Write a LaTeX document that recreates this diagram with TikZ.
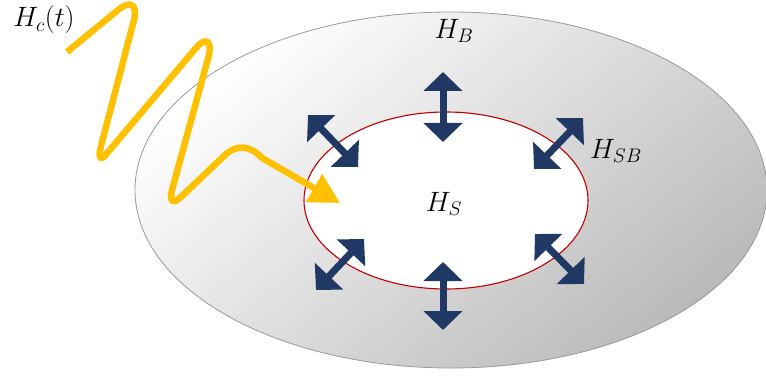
\RequirePackage{fix-cm}
\documentclass[tikz,border=0pt]{standalone}
\usetikzlibrary{arrows.meta}
\definecolor{navy}{HTML}{203864}
\definecolor{gold}{HTML}{FFC000}
\definecolor{redline}{HTML}{C00000}
\begin{document}
\begin{tikzpicture}[x=1pt,y=-1pt,
  dbl/.style={navy, line width=7pt,
    {Triangle[width=38pt,length=19pt]}-{Triangle[width=38pt,length=19pt]}},
  lab/.style={font=\fontsize{28}{33}\selectfont, inner sep=0pt}]
\useasboundingbox (0,0) rectangle (766,377);
% outer ellipse (bath)
\shade[top color=white, bottom color=black!27, shading angle=40,
  draw=black!40, line width=0.8pt] (451,190) ellipse [x radius=316, y radius=178];
% inner ellipse (system)
\draw[redline, fill=white, line width=1.1pt] (446,200.5) ellipse [x radius=142, y radius=88.5];
% labels
\node[lab] (hc) at (44,20) {$H_c(t)$};
\node[lab] (hb) at (454,31) {$H_B$};
\node[lab] (hs) at (444,204) {$H_S$};
\node[lab] (hsb) at (616,151) {$H_{SB}$};
% coupling arrows
\coordinate (t1) at (443,72);  \coordinate (t2) at (443,142);
\coordinate (b1) at (443,262); \coordinate (b2) at (443,330);
\coordinate (ul1) at (308,115); \coordinate (ul2) at (358,167);
\coordinate (ur1) at (583,118); \coordinate (ur2) at (534,169);
\coordinate (ll1) at (364,239); \coordinate (ll2) at (316,290);
\coordinate (lr1) at (535,234); \coordinate (lr2) at (584,284);
\draw[dbl] (t1) -- (t2);
\draw[dbl] (b1) -- (b2);
\draw[dbl] (ul1) -- (ul2);
\draw[dbl] (ur1) -- (ur2);
\draw[dbl] (ll1) -- (ll2);
\draw[dbl] (lr1) -- (lr2);
% control field
\coordinate (w0) at (67,52);
\coordinate (w1) at (340,203);
\draw[gold, line width=6.5pt, line join=round, -{Triangle[width=31pt,length=30pt]}]
  (w0) -- (118,10) .. controls (130,0) and (138,4) .. (134,20)
  -- (101,146) .. controls (98,158) and (100,163) .. (108,152)
  -- (196,48) .. controls (205,37) and (212,40) .. (209,55)
  -- (172,190) .. controls (169,202) and (173,205) .. (182,196)
  -- (224,156) .. controls (236,144) and (250,145) .. (262,158)
  -- (w1);
\end{tikzpicture}
\end{document}
